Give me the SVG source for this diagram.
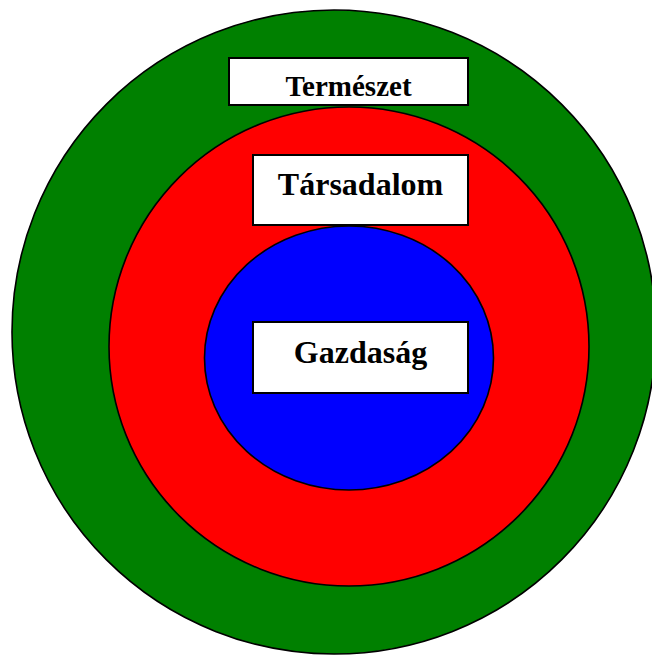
<svg xmlns="http://www.w3.org/2000/svg" width="652" height="657" viewBox="0 0 652 657">
<style>
.ring{stroke:#000;stroke-width:1.6}
.box{fill:#fff;stroke:#000;stroke-width:2}
.lbl{font-family:"Liberation Serif","Times New Roman",serif;font-weight:bold;fill:#000;text-anchor:middle}
</style>
<rect width="652" height="657" fill="#fff"/>
<g id="termeszet">
<ellipse class="ring" cx="334" cy="332" rx="322" ry="322" fill="#008000"/>
</g>
<g id="tarsadalom">
<ellipse class="ring" cx="349" cy="346.5" rx="240" ry="239.5" fill="#ff0000"/>
</g>
<g id="gazdasag">
<ellipse class="ring" cx="349" cy="358" rx="144.5" ry="132" fill="#0000ff"/>
</g>
<g id="label-termeszet">
<rect class="box" x="229" y="58" width="239" height="47"/>
<text class="lbl" x="348.5" y="96" font-size="29">Természet</text>
</g>
<g id="label-tarsadalom">
<rect class="box" x="253" y="155" width="215" height="70"/>
<text class="lbl" x="360.5" y="195" font-size="32">Társadalom</text>
</g>
<g id="label-gazdasag">
<rect class="box" x="253" y="322" width="215" height="71"/>
<text class="lbl" x="360.5" y="363" font-size="32">Gazdaság</text>
</g>
</svg>
